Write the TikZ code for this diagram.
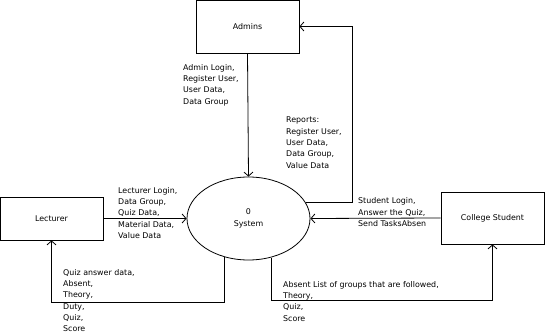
\documentclass[tikz,border=0pt]{standalone}
\usepackage{fontspec}
\setmainfont{DejaVu Sans}
\usetikzlibrary{arrows.meta,shapes.geometric}
\begin{document}
\begin{tikzpicture}[x=1pt,y=-1pt,
  entity/.style={draw,line width=0.8pt,rectangle,inner sep=0pt,font=\fontsize{7.9}{11.3}\selectfont},
  proc/.style={draw,line width=0.8pt,ellipse,inner sep=0pt,minimum width=123pt,minimum height=83pt,align=center,font=\fontsize{7.9}{11.3}\selectfont},
  flow/.style={line width=0.8pt,-{Straight Barb[length=4pt,width=9pt]}},
  lbl/.style={anchor=north west,inner sep=0pt,align=left,font=\fontsize{7.9}{11.3}\selectfont}]
\useasboundingbox (0,0) rectangle (546,336);
% external entities
\node[entity,minimum width=103pt,minimum height=53pt] (admins) at (247.5,26.5) {Admins};
\node[entity,minimum width=103pt,minimum height=43pt] (lect) at (51.5,218.5) {Lecturer};
\node[entity,minimum width=103pt,minimum height=52pt] (stud) at (492.5,218) {College Student};
% the process
\node[proc] (sys) at (248.5,218.5) {0\\System};
% routing points
\coordinate (rp) at (352,26.5);
\coordinate (ql) at (51.5,302);
\coordinate (qr) at (492.5,300);
% data flows
\draw[flow] (admins.south) -- (sys.north);
\draw[flow] (sys.16) -| (rp) -- (admins.east);
\draw[flow] (lect.east) -- (sys.west);
\draw[flow] (stud.west) -- (sys.east);
\draw[flow] (sys.238) |- (ql) -- (lect.south);
\draw[flow] (sys.300) |- (qr) -- (stud.south);
% flow labels
\node[lbl] (ladm) at (183,64) {Admin Login,\\Register User,\\User Data,\\Data Group};
\node[lbl] (lrep) at (286,117) {Reports:\\Register User,\\User Data,\\Data Group,\\Value Data};
\node[lbl] (llec) at (118,187) {Lecturer Login,\\Data Group,\\Quiz Data,\\Material Data,\\Value Data};
\node[lbl] (lstu) at (358,197.5) {Student Login,\\Answer the Quiz,\\Send TasksAbsen};
\node[lbl] (labs) at (283,281) {Absent List of groups that are followed,\\Theory,\\Quiz,\\Score};
\node[lbl] (lqz) at (63,269) {Quiz answer data,\\Absent,\\Theory,\\Duty,\\Quiz,\\Score};
\end{tikzpicture}
\end{document}
